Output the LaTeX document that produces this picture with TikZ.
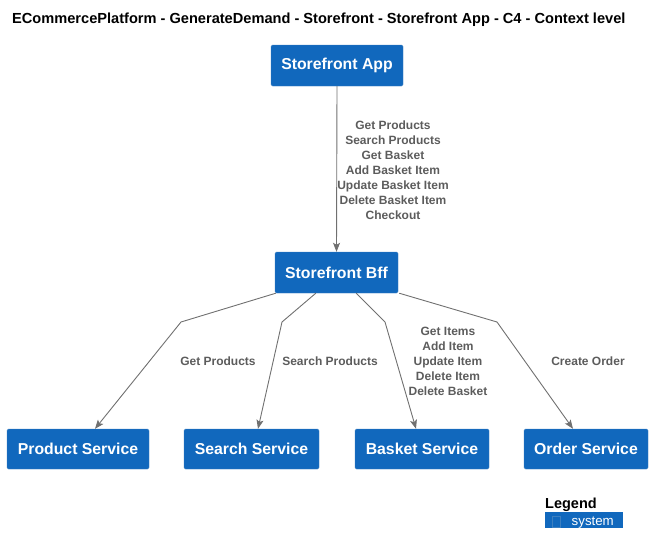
\documentclass[tikz,border=0pt]{standalone}
\usepackage{fontspec}
\setmainfont{Liberation Sans}
\usetikzlibrary{calc}
\usetikzlibrary{arrows.meta}
\usetikzlibrary{positioning}
\definecolor{sysblue}{HTML}{1168BD}
\definecolor{sysedge}{HTML}{3C7FC0}
\definecolor{linkgray}{HTML}{707070}
\definecolor{labgray}{HTML}{5C5C5C}
\tikzset{block/.style={draw=sysedge, fill=sysblue, rounded corners=1.5pt, text=white, text centered, font=\fontsize{15.8}{18}\selectfont\bfseries, minimum height=41pt}}
\tikzset{connect/.style={draw=linkgray, line width=0.9pt, -{Stealth[length=9pt,width=7pt,inset=2pt]}}}
\tikzset{tag/.style={text=labgray, align=center, font=\fontsize{12}{15}\selectfont\bfseries}}

\begin{document}
\begin{tikzpicture}[x=1pt,y=-1pt]
\useasboundingbox (0,0) rectangle (653,554);

%title
\node[anchor=west, inner sep=0pt, font=\fontsize{14.6}{16}\selectfont\bfseries] (title) at (12,20) {ECommercePlatform - GenerateDemand - Storefront - Storefront App - C4 - Context level};

%app and bff
\node[block,minimum width=132pt] (app) at (337,65.5) {Storefront App};
\node[block,minimum width=123pt] (bff) at (336.5,272.5) {Storefront Bff};

%services
\node[block,minimum width=142pt,minimum height=40pt] (product) at (78,449) {Product Service};
\node[block,minimum width=135pt,minimum height=40pt] (search) at (251.5,449) {Search Service};
\node[block,minimum width=134pt,minimum height=40pt] (basket) at (422,449) {Basket Service};
\node[block,minimum width=124pt,minimum height=40pt] (order) at (586,449) {Order Service};

%app to bff
\path[connect] (app.south) -- (bff.north);
\node[tag] (applabel) at (393,170) {Get Products\\Search Products\\Get Basket\\Add Basket Item\\Update Basket Item\\Delete Basket Item\\Checkout};

%bff to services
\path[connect] ([xshift=1pt]bff.south west) -- (181,322) -- ([xshift=17pt]product.north);
\path[connect] ([xshift=41pt]bff.south west) -- (282,322) -- ([xshift=6.5pt]search.north);
\path[connect] ([xshift=-42pt]bff.south east) -- (385,322) -- ([xshift=-6pt]basket.north);
\path[connect] ([xshift=1pt]bff.south east) -- (497,322) -- ([xshift=-13pt]order.north);
\node[tag] (productlabel) at (218,361) {Get Products};
\node[tag] (searchlabel) at (330,361) {Search Products};
\node[tag] (basketlabel) at (448,361) {Get Items\\Add Item\\Update Item\\Delete Item\\Delete Basket};
\node[tag] (orderlabel) at (588,361) {Create Order};

%legend
\node[anchor=base west, inner sep=0pt, font=\fontsize{14.5}{16}\selectfont\bfseries] (legend) at (545,508) {Legend};
\node[anchor=north west, fill=sysblue, minimum width=78pt, minimum height=16pt, inner sep=0pt] (legendbox) at (545,512) {};
\draw[sysedge, line width=0.6pt] ([xshift=7.5pt,yshift=-4pt]legendbox.north west) rectangle ([xshift=15pt,yshift=1.5pt]legendbox.south west);
\node[anchor=base west, text=white, inner sep=0pt, font=\fontsize{13.3}{15}\selectfont] (legendtext) at (571.5,525.5) {system};

\end{tikzpicture}
\end{document}
